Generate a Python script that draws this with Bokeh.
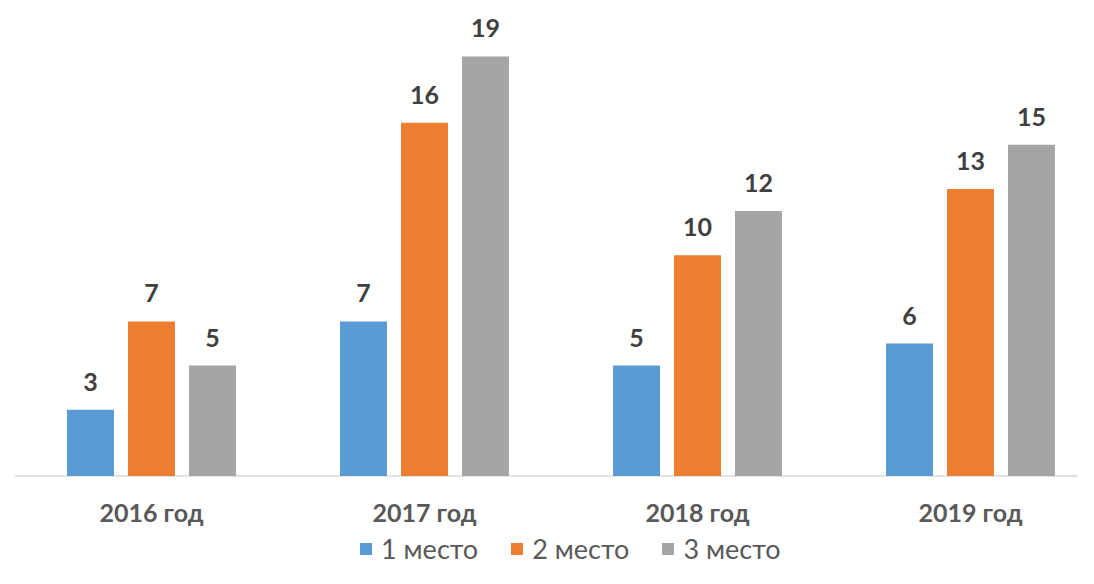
from bokeh.plotting import figure
from bokeh.models import Range1d, ColumnDataSource, Legend, LegendItem, LabelSet
from bokeh.core.properties import value
from bokeh.embed import file_html
from bokeh.resources import INLINE

years = ["2016 год", "2017 год", "2018 год", "2019 год"]
series = ["1 место", "2 место", "3 место"]
place1 = [3, 7, 5, 6]
place2 = [7, 16, 10, 13]
place3 = [5, 19, 12, 15]
colors = ["#5B9BD5", "#ED7D31", "#A5A5A5"]

values = [place1, place2, place3]
offsets = [-0.2234, 0.0, 0.2234]
bar_w = 0.172
FONT = "Lato"

W, H = 1078, 568
p = figure(width=W, height=H, output_backend="svg", toolbar_location=None,
           x_range=Range1d(-0.5531, 3.3956), y_range=Range1d(-4.189, 21.535),
           min_border=0, x_axis_location=None, y_axis_location=None,
           outline_line_color=None)
p.grid.visible = False
p.background_fill_color = "white"
p.border_fill_color = "white"

idx = list(range(len(years)))

# baseline
p.segment(x0=[-0.5], y0=[0], x1=[3.3956], y1=[0], line_color="#D9D9D9", line_width=1.5)

renderers = []
for j, vals in enumerate(values):
    xs = [i + offsets[j] for i in idx]
    src = ColumnDataSource(dict(x=xs, top=vals, label=[str(v) for v in vals]))
    r = p.vbar(x="x", top="top", bottom=0, width=bar_w, source=src,
               fill_color=colors[j], line_color=None)
    renderers.append(r)
    p.add_layout(LabelSet(x="x", y="top", text="label", source=src,
                          y_offset=19, text_align="center", text_baseline="alphabetic",
                          text_font=value(FONT), text_font_style="bold",
                          text_font_size="25px", text_color="#404040"))

cat_src = ColumnDataSource(dict(x=idx, y=[0] * len(idx), text=years))
p.add_layout(LabelSet(x="x", y="y", text="text", source=cat_src,
                      y_offset=-46, text_align="center", text_baseline="alphabetic",
                      text_font=value(FONT), text_font_style="bold",
                      text_font_size="25px", text_color="#595959"))

legend = Legend(items=[LegendItem(label=s, renderers=[r]) for s, r in zip(series, renderers)],
                orientation="horizontal", location=(358, 3),
                label_text_font=FONT, label_text_font_size="27px", label_text_color="#595959",
                glyph_width=15, glyph_height=15, label_standoff=8, spacing=31,
                padding=0, margin=0, border_line_alpha=0, background_fill_alpha=0)
p.add_layout(legend)

open("out.html", "w").write(file_html(p, INLINE))
